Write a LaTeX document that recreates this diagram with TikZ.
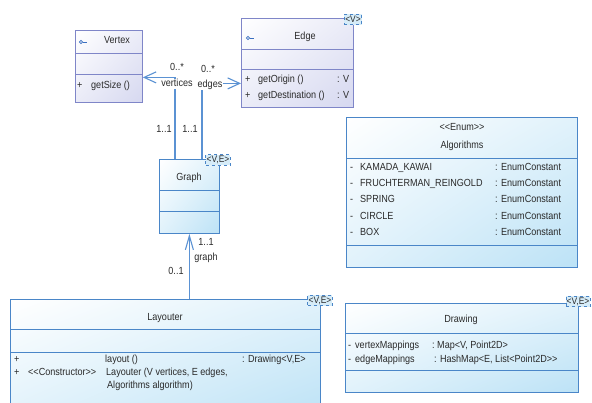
\documentclass[tikz,border=0pt]{standalone}
\usepackage{fontspec}
\setmainfont[FakeStretch=0.88]{Liberation Sans}
\usetikzlibrary{arrows.meta,shadings}
\definecolor{bluefill}{HTML}{BCE2F6}
\definecolor{blueline}{HTML}{4A86C8}
\definecolor{lavfill}{HTML}{D6D8F0}
\definecolor{lavline}{HTML}{7F86C8}
\definecolor{assoccol}{HTML}{5B92D3}
\definecolor{tagfill}{HTML}{D6ECF8}
\definecolor{txt}{HTML}{2A2A2A}
\definecolor{iconcol}{HTML}{3A6FC0}
\begin{document}
\begin{tikzpicture}[x=1pt,y=-1pt,
  font=\fontsize{10.3}{12}\selectfont, text=txt,
  bluebox/.style={draw=blueline, line width=0.8pt, inner sep=0pt, anchor=north west,
    upper left=white, lower right=bluefill, upper right=bluefill!45!white, lower left=bluefill!45!white},
  lavbox/.style={draw=lavline, line width=0.8pt, inner sep=0pt, anchor=north west,
    upper left=white, lower right=lavfill, upper right=lavfill!50!white, lower left=lavfill!50!white},
  bdiv/.style={draw=blueline, line width=0.8pt},
  ldiv/.style={draw=lavline, line width=0.8pt},
  tagbox/.style={draw=blueline, dashed, fill=tagfill, inner sep=0.8pt, line width=0.7pt,
    font=\fontsize{9.6}{10}\selectfont, text height=7.5pt, text depth=1.5pt},
  txtl/.style={inner sep=0pt, anchor=west, text height=7.5pt, text depth=2pt},
  txtc/.style={inner sep=0pt, anchor=center, text height=7.5pt, text depth=2pt},
  lbl/.style={inner sep=0.5pt, anchor=center, text height=7.5pt, text depth=2pt},
  assoc/.style={draw=assoccol, line width=1.1pt},
  barb/.style={-{Straight Barb[length=12pt,width=11pt,line width=1.1pt]}},
  barbn/.style={-{Straight Barb[length=14pt,width=8pt,line width=1.1pt]}},
  icon/.style={draw=iconcol, line width=0.7pt}
]
\path[use as bounding box, clip] (0,0) rectangle (592,403);
\fill[white] (0,0) rectangle (592,403);

% ---------- Vertex ----------
\node[lavbox, minimum width=67, minimum height=72] (vertex) at (75,30) {};
\draw[ldiv] (vertex.west |- 0,53) -- (vertex.east |- 0,53);
\draw[ldiv] (vertex.west |- 0,74) -- (vertex.east |- 0,74);
\node[icon, circle, inner sep=0pt, minimum size=3.2pt] (vicon) at (81,42) {};
\coordinate (vicone) at (86.5,42);
\draw[icon] (vicon.east) -- (vicone);
\node[txtc] (vtitle) at (117,41) {Vertex};
\node[txtl] (vplus) at (77,86) {+};
\node[txtl] (vm1) at (91,86) {getSize ()};

% ---------- Edge ----------
\node[lavbox, minimum width=112, minimum height=89] (edge) at (241,18) {};
\draw[ldiv] (edge.west |- 0,49) -- (edge.east |- 0,49);
\draw[ldiv] (edge.west |- 0,69) -- (edge.east |- 0,69);
\node[icon, circle, inner sep=0pt, minimum size=3.2pt] (eicon) at (248,38) {};
\coordinate (eicone) at (253.5,38);
\draw[icon] (eicon.east) -- (eicone);
\node[txtc] (etitle) at (305,37) {Edge};
\node[txtl] (ep1) at (245,80) {+};
\node[txtl] (em1) at (258,80) {getOrigin ()};
\node[txtl] (et1) at (337,80) {: V};
\node[txtl] (ep2) at (245,96) {+};
\node[txtl] (em2) at (258,96) {getDestination ()};
\node[txtl] (et2) at (337,96) {: V};
\node[tagbox] (etag) at (353,19.5) {<V>};

% ---------- Graph ----------
\node[bluebox, minimum width=60, minimum height=74] (graph) at (159,159) {};
\draw[bdiv] (graph.west |- 0,190) -- (graph.east |- 0,190);
\draw[bdiv] (graph.west |- 0,211) -- (graph.east |- 0,211);
\node[txtc] (gtitle) at (189,178) {Graph};
\node[tagbox] (gtag) at (218,160) {<V,E>};

% ---------- Algorithms ----------
\node[bluebox, minimum width=231, minimum height=150] (algo) at (346,117) {};
\draw[bdiv] (algo.west |- 0,158) -- (algo.east |- 0,158);
\draw[bdiv] (algo.west |- 0,245) -- (algo.east |- 0,245);
\node[txtc] (aster) at (462,128) {<{}<Enum>{}>};
\node[txtc] (atitle) at (462,146) {Algorithms};
\foreach \y/\n/\nm in {168/a1/KAMADA\_KAWAI, 184/a2/FRUCHTERMAN\_REINGOLD, 200/a3/SPRING, 217/a4/CIRCLE, 233/a5/BOX}{
  \node[txtl] (\n m) at (350,\y) {-};
  \node[txtl] (\n n) at (360,\y) {\nm};
  \node[txtl] (\n t) at (495,\y) {: EnumConstant};
}

% ---------- Layouter ----------
\node[bluebox, minimum width=310, minimum height=120] (layouter) at (10,299) {};
\draw[bdiv] (layouter.west |- 0,329) -- (layouter.east |- 0,329);
\draw[bdiv] (layouter.west |- 0,352) -- (layouter.east |- 0,352);
\node[txtc] (ltitle) at (165,318) {Layouter};
\node[tagbox] (ltag) at (320,300.5) {<V,E>};
\node[txtl] (lp1) at (14,360) {+};
\node[txtl] (lm1) at (105,360) {layout ()};
\node[txtl] (lt1) at (242,360) {: Drawing<V,E>};
\node[txtl] (lp2) at (14,373) {+};
\node[txtl] (ls2) at (28,373) {<{}<Constructor>{}>};
\node[txtl] (lm2) at (106,373) {Layouter (V vertices, E edges,};
\node[txtl] (lm3) at (107,386) {Algorithms algorithm)};

% ---------- Drawing ----------
\node[bluebox, minimum width=233, minimum height=89] (drawing) at (345,303) {};
\draw[bdiv] (drawing.west |- 0,333) -- (drawing.east |- 0,333);
\draw[bdiv] (drawing.west |- 0,370) -- (drawing.east |- 0,370);
\node[txtc] (dtitle) at (461,320) {Drawing};
\node[tagbox] (dtag) at (578,301.5) {<V,E>};
\node[txtl] (dm1) at (348,346) {-};
\node[txtl] (dn1) at (355,346) {vertexMappings};
\node[txtl] (dt1) at (432,346) {:\ Map<V, Point2D>};
\node[txtl] (dm2) at (348,360) {-};
\node[txtl] (dn2) at (355,360) {edgeMappings};
\node[txtl] (dt2) at (434,360) {: HashMap<E, List<Point2D>{}>};

% ---------- Connectors ----------
\draw[assoc, barb] ([xshift=16pt]graph.north west) |- ([yshift=-11pt]vertex.east);
\draw[assoc, barb] ([xshift=43pt]graph.north west) |- ([yshift=-20.5pt]edge.west);
\draw[assoc, barbn] (graph.south |- layouter.north) -- (graph.south);

% ---------- Connector labels ----------
\node[lbl] (l1) at (177,68) {0..*};
\node[lbl, fill=white] (l2) at (177,84) {vertices};
\node[lbl] (l3) at (208,70) {0..*};
\node[lbl, fill=white] (l4) at (210,85) {edges};
\node[lbl] (l5) at (164,130) {1..1};
\node[lbl] (l6) at (190,130) {1..1};
\node[lbl] (l7) at (206,243) {1..1};
\node[lbl] (l8) at (206,258) {graph};
\node[lbl] (l9) at (176,272) {0..1};
\end{tikzpicture}
\end{document}
